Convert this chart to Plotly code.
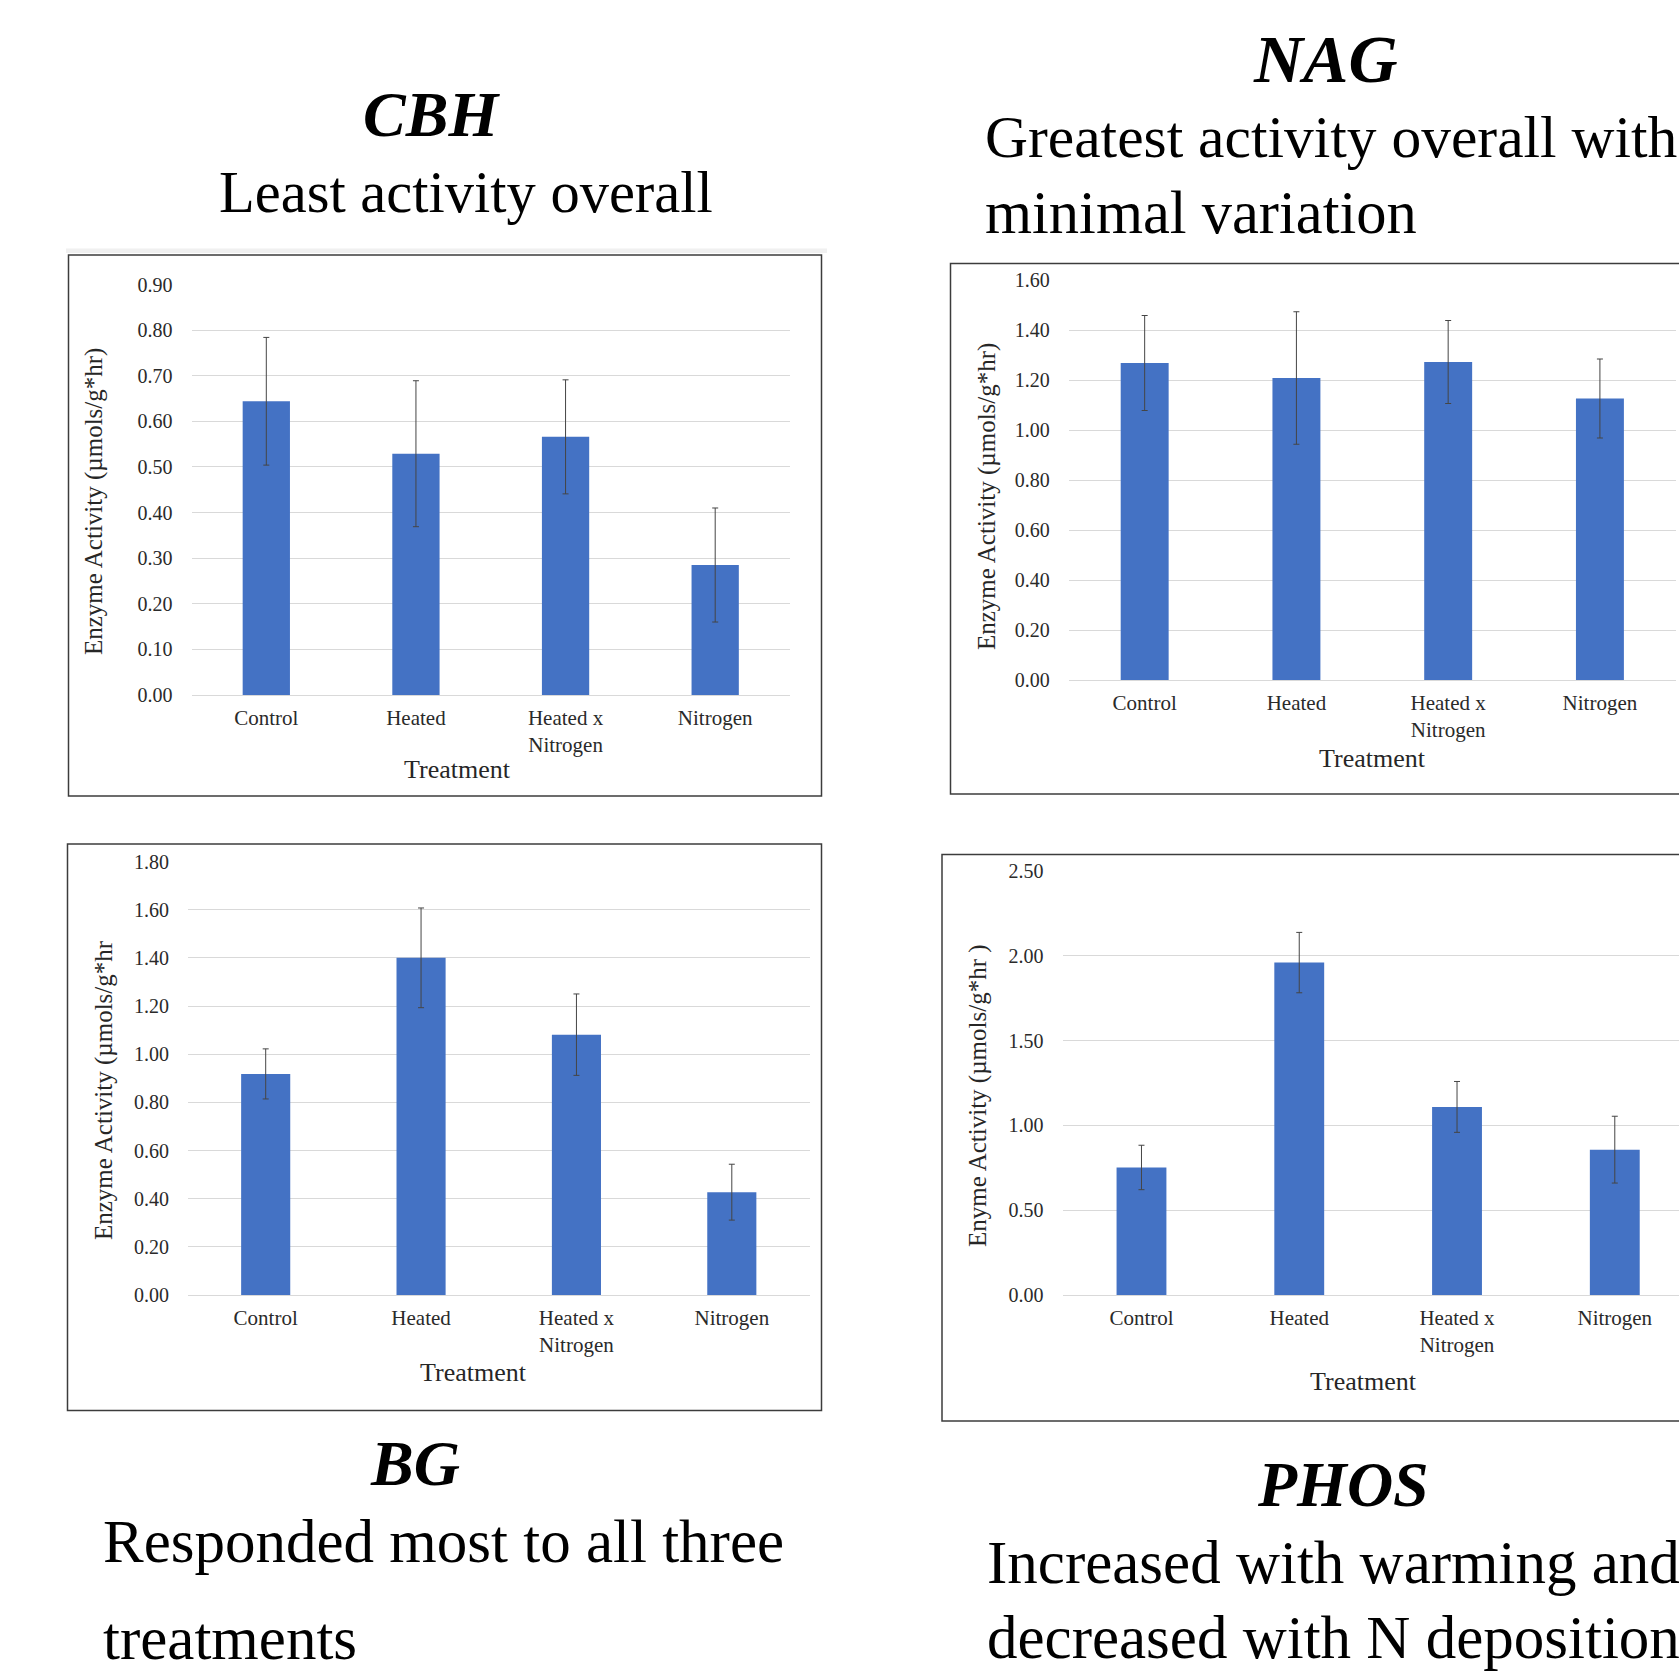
import plotly.graph_objects as go

W, H = 1679, 1674

# ---------------- data ----------------
categories = ["Control", "Heated", "Heated x Nitrogen", "Nitrogen"]
tick_text = ["Control", "Heated", "Heated x<br>Nitrogen", "Nitrogen"]

cbh_values = [0.644, 0.529, 0.566, 0.285]
cbh_errors = [0.140, 0.160, 0.125, 0.125]

nag_values = [1.268, 1.208, 1.272, 1.126]
nag_errors = [0.190, 0.265, 0.166, 0.158]

bg_values = [0.918, 1.400, 1.081, 0.427]
bg_errors = [0.104, 0.207, 0.169, 0.116]

phos_values = [0.752, 1.960, 1.109, 0.857]
phos_errors = [0.131, 0.178, 0.150, 0.197]

cbh_ytitle = "Enzyme Activity (µmols/g*hr)"
nag_ytitle = "Enzyme Activity (µmols/g*hr)"
bg_ytitle = "Enzyme Activity (µmols/g*hr"
phos_ytitle = "Enyme Activity (µmols/g*hr )"
xtitle = "Treatment"

# ---------------- layout helpers ----------------
def fx(x):
    return x / W

def fy(y):
    return 1 - y / H

FONT = "Liberation Serif, Times New Roman, serif"
BAR = "#4472C4"
GRID = "#d9d9d9"
TICKC = "#2a2a2a"

panels = [
    dict(values=cbh_values, errors=cbh_errors, xd=(191.5, 790), yd=(284.5, 695),
         yr=[0, 0.9], dt=0.1, xr=[-0.5, 3.5], ytitle=cbh_ytitle,
         yt_pos=(94, 502), xt_pos=(457, 770), box=(68.5, 255, 821.5, 796)),
    dict(values=nag_values, errors=nag_errors, xd=(1068.8, 1675.8), yd=(280, 680),
         yr=[0, 1.6], dt=0.2, xr=[-0.5, 3.5], ytitle=nag_ytitle,
         yt_pos=(987, 497), xt_pos=(1372, 758), box=(950.5, 263.5, 1700, 794)),
    dict(values=bg_values, errors=bg_errors, xd=(188, 809.5), yd=(861.5, 1295),
         yr=[0, 1.8], dt=0.2, xr=[-0.5, 3.5], ytitle=bg_ytitle,
         yt_pos=(104, 1090), xt_pos=(473, 1372), box=(67.5, 844, 821.5, 1410.5)),
    dict(values=phos_values, errors=phos_errors, xd=(1062.6, 1679), yd=(871, 1295),
         yr=[0, 2.5], dt=0.5, xr=[-0.5, 3.407], ytitle=phos_ytitle,
         yt_pos=(978, 1096), xt_pos=(1363, 1381), box=(942, 854.5, 1700, 1421)),
]

fig = go.Figure()
layout = dict(
    width=W, height=H,
    margin=dict(l=0, r=0, t=0, b=0, pad=0, autoexpand=False),
    paper_bgcolor="white", plot_bgcolor="white",
    showlegend=False, bargap=0.684, font=dict(family=FONT, color=TICKC),
)
annotations = []
shapes = []

# faint band above the first panel
shapes.append(dict(type="rect", xref="paper", yref="paper",
                   x0=fx(66), x1=fx(827), y0=fy(253), y1=fy(248.5),
                   fillcolor="#f0f0f0", line=dict(width=0), layer="below"))

for i, p in enumerate(panels, start=1):
    xa = "x" if i == 1 else f"x{i}"
    ya = "y" if i == 1 else f"y{i}"
    fig.add_trace(go.Bar(
        x=categories, y=p["values"], xaxis=xa, yaxis=ya,
        marker=dict(color=BAR, line=dict(width=0)),
        error_y=dict(type="data", array=p["errors"], visible=True,
                     color="#454545", thickness=1, width=3),
    ))
    xkey = "xaxis" if i == 1 else f"xaxis{i}"
    ykey = "yaxis" if i == 1 else f"yaxis{i}"
    layout[xkey] = dict(
        domain=[fx(p["xd"][0]), min(1.0, fx(p["xd"][1]))], anchor=ya, type="category",
        range=p["xr"], tickvals=categories, ticktext=tick_text,
        showgrid=False, showline=False, zeroline=False, ticks="",
        tickfont=dict(family=FONT, size=21, color=TICKC),
        ticklabelstandoff=8, fixedrange=True, automargin=False,
    )
    layout[ykey] = dict(
        domain=[fy(p["yd"][1]), fy(p["yd"][0])], anchor=xa,
        range=p["yr"], dtick=p["dt"], tick0=0, tickformat=".2f",
        showgrid=True, gridcolor=GRID, gridwidth=1,
        zeroline=True, zerolinecolor=GRID, zerolinewidth=1,
        showline=False, ticks="",
        tickfont=dict(family=FONT, size=20, color=TICKC),
        ticklabelstandoff=18, fixedrange=True, automargin=False,
    )
    # y axis title
    annotations.append(dict(
        text=p["ytitle"], textangle=-90, xref="paper", yref="paper",
        x=fx(p["yt_pos"][0]), y=fy(p["yt_pos"][1]),
        xanchor="center", yanchor="middle", showarrow=False,
        font=dict(family=FONT, size=25, color="#262626"),
    ))
    # x axis title
    annotations.append(dict(
        text=xtitle, xref="paper", yref="paper",
        x=fx(p["xt_pos"][0]), y=fy(p["xt_pos"][1]),
        xanchor="center", yanchor="middle", showarrow=False,
        font=dict(family=FONT, size=26, color="#262626"),
    ))
    # panel border
    x0, y0, x1, y1 = p["box"]
    shapes.append(dict(type="rect", xref="paper", yref="paper",
                       x0=fx(x0), x1=fx(x1), y0=fy(y1), y1=fy(y0),
                       line=dict(color="#3c3c3c", width=1.5),
                       fillcolor="rgba(0,0,0,0)", layer="above"))

# headings
def tfont(size):
    return dict(family=FONT, size=size, color="black")

headings = [
    ("<b><i>CBH</i></b>", 431, 114.5, "center", 64),
    ("Least activity overall", 466, 192.5, "center", 58.5),
    ("<b><i>NAG</i></b>", 1325, 59, "center", 68),
    ("Greatest activity overall with", 983, 137, "left", 59.5),
    ("minimal variation", 983, 212.5, "left", 60.5),
    ("<b><i>BG</i></b>", 415, 1463.5, "center", 64),
    ("Responded most to all three", 101, 1541, "left", 61),
    ("treatments", 101, 1638, "left", 61),
    ("<b><i>PHOS</i></b>", 1343, 1484, "center", 64),
    ("Increased with warming and", 985, 1562, "left", 61),
    ("decreased with N deposition", 985, 1637.5, "left", 61),
]
for txt, x, y, anc, sz in headings:
    annotations.append(dict(
        text=txt, xref="paper", yref="paper", x=fx(x), y=fy(y),
        xanchor=anc, yanchor="middle", showarrow=False, font=tfont(sz),
    ))

layout["annotations"] = annotations
layout["shapes"] = shapes
fig.update_layout(**layout)

fig.write_html(
    "out.html",
    config={"displayModeBar": False, "staticPlot": True},
    post_script="document.body.style.margin='0';document.body.style.padding='0';"
                "document.documentElement.style.overflow='hidden';",
)
